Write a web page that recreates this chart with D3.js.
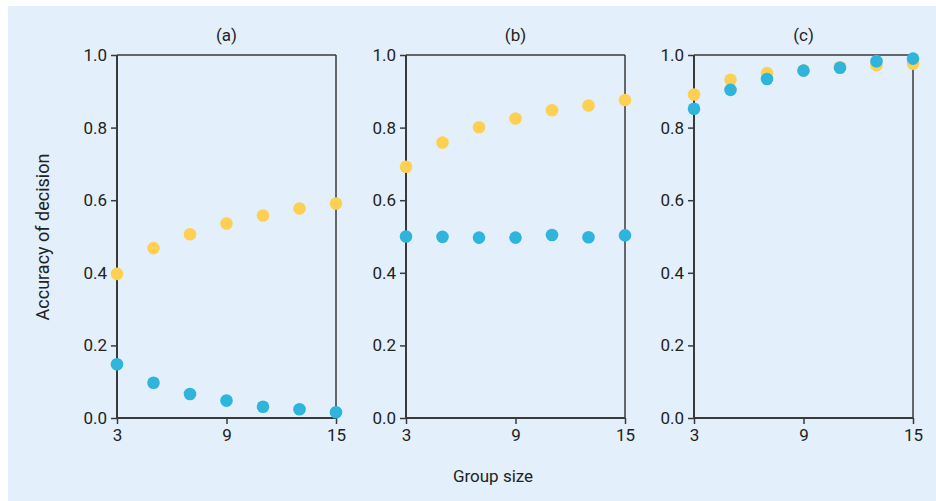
<!DOCTYPE html>
<html><head><meta charset="utf-8">
<script src="https://cdn.jsdelivr.net/npm/d3@7/dist/d3.min.js"></script>
<style>body{margin:0;background:#fff}svg{display:block}text{font-family:Roboto,sans-serif;fill:#222}</style>
</head><body>
<svg id="c" width="936" height="501"></svg>
<script>
const groupSizes = [3,5,7,9,11,13,15];
const panelTitles = ["(a)","(b)","(c)"];
const yellowA = [0.397,0.468,0.506,0.536,0.558,0.577,0.591];
const blueA   = [0.148,0.097,0.066,0.048,0.031,0.024,0.016];
const yellowB = [0.692,0.759,0.801,0.825,0.848,0.861,0.876];
const blueB   = [0.500,0.499,0.497,0.497,0.504,0.498,0.503];
const yellowC = [0.891,0.932,0.950,0.957,0.967,0.972,0.976];
const blueC   = [0.852,0.904,0.934,0.957,0.965,0.983,0.990];
const xTicks = [3,9,15];
const yTicks = [0,0.2,0.4,0.6,0.8,1.0];
const panels = [[yellowA,blueA],[yellowB,blueB],[yellowC,blueC]];

(function(){
const svg = d3.select("#c");
svg.append("rect").attr("x",8).attr("y",6).attr("width",928).attr("height",495).attr("fill","#e3f0fb");

const lefts = [117,406,694];
const W = 219, plotTop = 55, plotBottom = 418;
const y = d3.scaleLinear().domain([0,1]).range([plotBottom, plotTop]);
const axisColor = "#3a3a3a";
const FS = "17px";

panels.forEach((p,i)=>{
  const x = d3.scaleLinear().domain([3,15]).range([lefts[i], lefts[i]+W]);
  const g = svg.append("g");
  g.append("line").attr("x1",x(3)).attr("x2",x(15)).attr("y1",y(1)).attr("y2",y(1)).attr("stroke",axisColor).attr("stroke-width",1.5);
  g.append("line").attr("x1",x(15)).attr("x2",x(15)).attr("y1",y(1)).attr("y2",y(0)).attr("stroke",axisColor).attr("stroke-width",1.5);
  const ya = g.append("g").attr("transform",`translate(${x(3)},0)`)
    .call(d3.axisLeft(y).tickValues(yTicks).tickFormat(d3.format(".1f")).tickSize(6).tickPadding(4));
  const xa = g.append("g").attr("transform",`translate(0,${y(0)})`)
    .call(d3.axisBottom(x).tickValues(xTicks).tickSize(6).tickPadding(5));
  [ya,xa].forEach(a=>{
    a.select(".domain").attr("stroke",axisColor).attr("stroke-width",2);
    a.selectAll(".tick line").attr("stroke",axisColor).attr("stroke-width",1.5);
    a.selectAll("text").style("font-family","Roboto,sans-serif").style("font-size",FS).attr("fill","#222");
  });
  ya.select(".domain").attr("d",`M0,${y(0)}V${y(1)}`);
  xa.select(".domain").attr("d",`M${x(3)},0H${x(15)}`);
  g.append("text").attr("x",x(9)).attr("y",37).attr("text-anchor","middle").attr("dominant-baseline","middle")
    .style("font-size",FS).text(panelTitles[i]);
  const colors = ["#fdd052","#2fb4dc"];
  p.forEach((vals,k)=>{
    g.append("g").selectAll("circle").data(vals).join("circle")
      .attr("cx",(d,j)=>x(groupSizes[j])).attr("cy",d=>y(d)).attr("r",6.3).attr("fill",colors[k]);
  });
});

svg.append("text").attr("transform","translate(44,237) rotate(-90)").attr("text-anchor","middle")
  .attr("dominant-baseline","middle").style("font-size","18px").text("Accuracy of decision");
svg.append("text").attr("x",493).attr("y",478).attr("text-anchor","middle").attr("dominant-baseline","middle")
  .style("font-size",FS).text("Group size");
})();
</script>
</body></html>
